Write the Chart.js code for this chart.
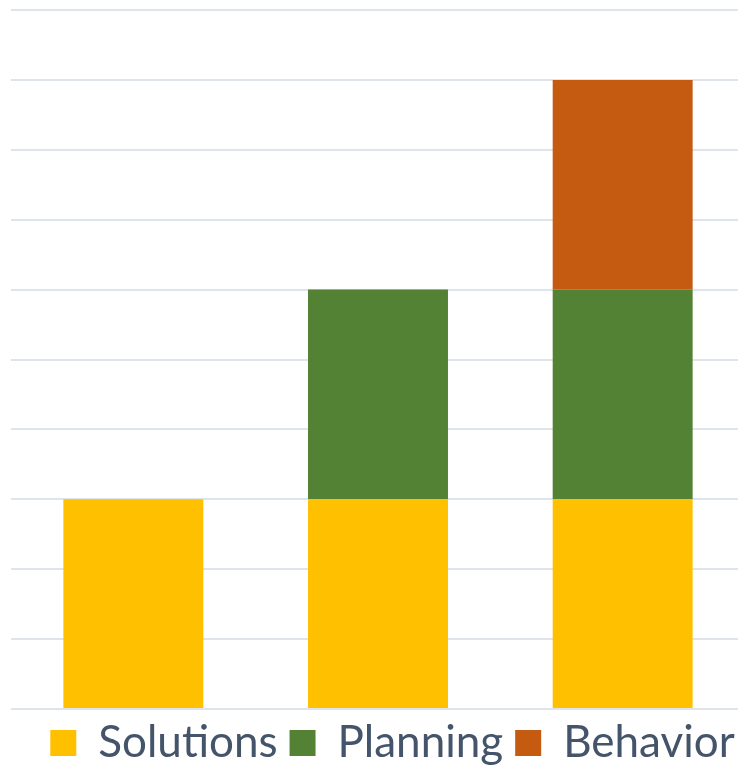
<!DOCTYPE html>
<html>
<head>
<meta charset="utf-8">
<script src="https://cdn.jsdelivr.net/npm/chart.js@4/dist/chart.umd.min.js"></script>
<style>
html,body{margin:0;padding:0;overflow:hidden;background:#fff;width:738px;height:767px;}
#wrap{position:absolute;left:0;top:0;width:785px;height:775px;}
</style>
</head>
<body>
<div id="wrap"><canvas id="c"></canvas></div>
<script>
const categories = ["", " ", "  "];
const solutions = [3, 3, 3];
const planning = [0, 3, 3];
const behavior = [0, 0, 3];
const yMax = 10;

new Chart(document.getElementById('c'), {
  type: 'bar',
  data: {
    labels: categories,
    datasets: [
      { label: 'Solutions', data: solutions, backgroundColor: '#FFC000' },
      { label: 'Planning', data: planning, backgroundColor: '#548235' },
      { label: 'Behavior', data: behavior, backgroundColor: '#C55A11' }
    ]
  },
  options: {
    responsive: true,
    maintainAspectRatio: false,
    animation: false,
    categoryPercentage: 0.572,
    barPercentage: 1,
    layout: { padding: { left: 0, right: 0, top: 10, bottom: 0 } },
    plugins: {
      tooltip: { enabled: false },
      legend: {
        position: 'bottom',
        labels: {
          boxWidth: 26,
          boxHeight: 26,
          padding: 12,
          color: '#44546A',
          font: { family: 'Lato', size: 44 }
        }
      }
    },
    scales: {
      x: { stacked: true, display: false },
      y: {
        stacked: true,
        min: 0,
        max: yMax,
        ticks: { display: false, stepSize: 1 },
        border: { display: false },
        grid: { color: '#DFE4EB', lineWidth: 2, drawTicks: false },
        afterFit: s => { s.width = 11; }
      },
      yR: {
        position: 'right',
        min: 0,
        max: yMax,
        ticks: { display: false },
        border: { display: false },
        grid: { display: false, drawTicks: false },
        afterFit: s => { s.width = 40; }
      }
    }
  }
});
</script>
</body>
</html>
